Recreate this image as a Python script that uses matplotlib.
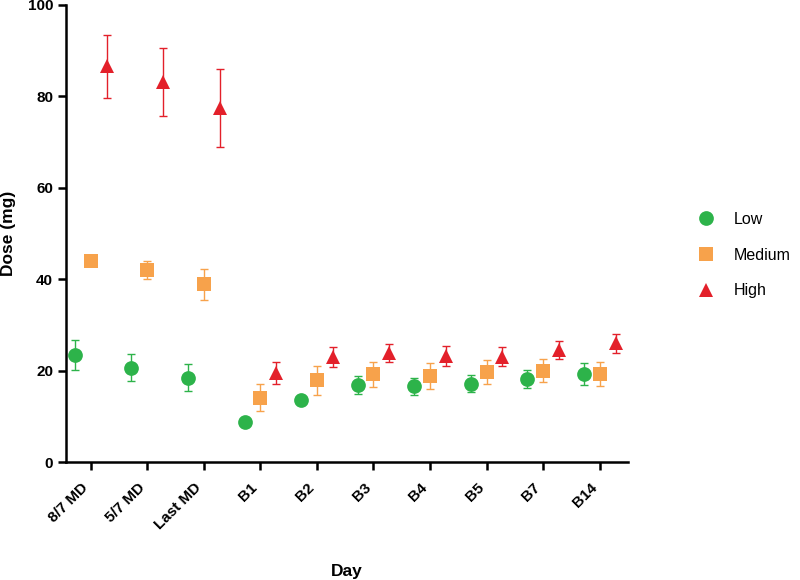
import numpy as np
import matplotlib
matplotlib.use('Agg')
import matplotlib.pyplot as plt

days = ['8/7 MD', '5/7 MD', 'Last MD', 'B1', 'B2', 'B3', 'B4', 'B5', 'B7', 'B14']

low = [23.4, 20.7, 18.5, 8.8, 13.6, 16.95, 16.65, 17.15, 18.2, 19.25]
low_err = [3.3, 2.9, 2.9, 0.6, 0.6, 1.95, 1.85, 1.85, 1.9, 2.35]
medium = [44.0, 42.0, 38.85, 14.1, 17.95, 19.2, 18.9, 19.8, 20.05, 19.25]
medium_err = [0.8, 2.0, 3.35, 3.0, 3.15, 2.8, 2.8, 2.6, 2.55, 2.65]
high = [86.5, 83.1, 77.5, 19.4, 22.95, 23.8, 23.25, 23.1, 24.55, 26.0]
high_err = [6.9, 7.4, 8.5, 2.4, 2.2, 2.0, 2.15, 2.1, 1.95, 2.1]

plt.rcParams['font.family'] = ['Liberation Sans', 'DejaVu Sans']

fig = plt.figure(figsize=(8, 5.8), dpi=100)
ax = fig.add_axes([0.083, 0.203, 0.702, 0.789])

x = np.arange(len(days))
groups = [
    ('Low', low, low_err, 'o', '#2db34a', 10.6, -0.28),
    ('Medium', medium, medium_err, 's', '#f7a24b', 9.6, 0.0),
    ('High', high, high_err, '^', '#e3202a', 10.0, 0.28),
]
for name, vals, errs, mk, col, ms, off in groups:
    ax.errorbar(x + off, vals, yerr=errs, fmt='none', ecolor=col,
                elinewidth=1, capsize=3, capthick=1, zorder=2)
    ax.plot(x + off, vals, mk, color=col, ms=ms, mew=0, ls='none',
            label=name, zorder=3)

ax.set_xlim(-0.43, 9.5)
ax.set_ylim(0, 100)
ax.set_yticks([0, 20, 40, 60, 80, 100])
ax.set_xticks(x)
ax.set_xticklabels(days, rotation=45, ha='right')

for s in ['top', 'right']:
    ax.spines[s].set_visible(False)
for s in ['left', 'bottom']:
    ax.spines[s].set_linewidth(1.8)
ax.tick_params(axis='both', width=1.8, length=6, labelsize=11)
ax.tick_params(axis='x', pad=7)
for lab in ax.get_xticklabels() + ax.get_yticklabels():
    lab.set_fontweight('bold')

ax.set_ylabel('Dose (mg)', fontsize=12.5, fontweight='bold')
ax.set_xlabel('Day', fontsize=12.5, fontweight='bold')
ax.yaxis.set_label_coords(-0.089, 0.5)
ax.xaxis.set_label_coords(0.5, -0.222)

fig.legend(loc='center left', bbox_to_anchor=(0.855, 0.560), frameon=False,
           fontsize=11.5, labelspacing=1.3, handletextpad=1.2, handlelength=1.0)

fig.savefig('out.png', dpi=100)
